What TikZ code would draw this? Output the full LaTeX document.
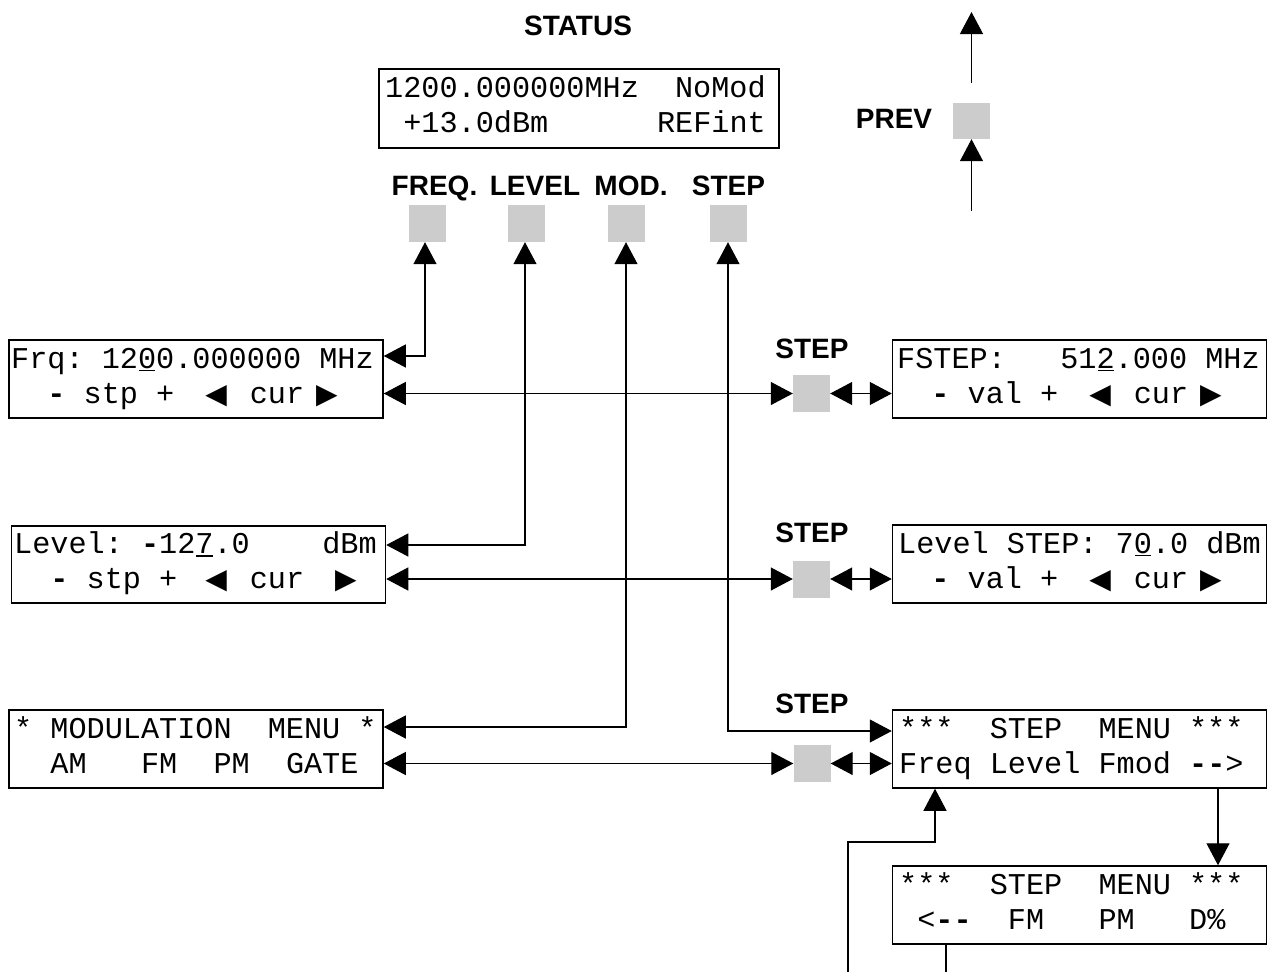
\documentclass[tikz,border=0pt]{standalone}
\usepackage{fontspec}
\setmainfont{Liberation Sans}
\newfontfamily\lcdfont{Liberation Mono}
\newfontfamily\symfont{DejaVu Sans}
\usetikzlibrary{arrows.meta}
\definecolor{btngray}{RGB}{204,204,204}
\newcommand{\ltri}{{\symfont\fontsize{28pt}{28pt}\selectfont ◀}}
\newcommand{\rtri}{{\symfont\fontsize{28pt}{28pt}\selectfont ▶}}
\newcommand{\bdash}{{\bfseries -}}
\newcommand{\udig}[1]{\setbox0\hbox{#1}\rlap{\kern1pt\rule[-3pt]{\dimexpr\wd0-2pt\relax}{1.5pt}}#1}
\tikzset{
  lcdbox/.style={draw, line width=1.5pt, rectangle, inner sep=0pt, minimum width=374pt, minimum height=78pt},
  lcdline/.style={anchor=base west, inner sep=0pt, font=\lcdfont\fontsize{30.2pt}{30.2pt}\selectfont},
  btn/.style={fill=btngray, draw=none, rectangle, minimum width=37pt, minimum height=37pt, inner sep=0pt},
  lbl/.style={font=\bfseries\fontsize{28pt}{28pt}\selectfont, anchor=base, inner sep=0pt},
  conn/.style={line width=1.2pt, -{Triangle[length=22pt,width=23pt]}},
  conntwo/.style={line width=1.2pt, {Triangle[length=22pt,width=23pt]}-{Triangle[length=22pt,width=23pt]}},
  plainline/.style={line width=1.2pt}
}
\begin{document}
\begin{tikzpicture}[x=1pt,y=-1pt]
\fill[white] (0,0) rectangle (1272,972);
\useasboundingbox (0,0) rectangle (1272,972);

% status
\node[lbl] (tstatus) at (578,35) {STATUS};
\node[lcdbox, minimum width=400pt, minimum height=79pt] (status) at (579,108.5) {};
\node[lcdline] (status1) at (385,97) {1200.000000MHz~~NoMod};
\node[lcdline] (status2) at (385,132) {~+13.0dBm~~~~~~REFint};

% top buttons
\node[lbl] (tfreq) at (434.5,195) {FREQ.};
\node[lbl] (tlevel) at (535,195) {LEVEL};
\node[lbl] (tmod) at (631,195) {MOD.};
\node[lbl] (tstep) at (728.5,195) {STEP};
\node[btn] (bfreq) at (427.5,223.5) {};
\node[btn] (blevel) at (526.5,223.5) {};
\node[btn] (bmod) at (626.5,223.5) {};
\node[btn] (bstep) at (728.5,223.5) {};

% prev
\node[lbl] (tprev) at (894,128) {PREV};
\node[btn, minimum height=36pt] (bprev) at (971.5,121) {};
\coordinate (pa) at (971.5,211);
\coordinate (pb) at (971.5,83);
\coordinate (pc) at (971.5,12);
\draw[conn] (pa) -- (bprev.south);
\draw[conn] (pb) -- (pc);

% left boxes
\node[lcdbox] (frq) at (196,379) {};
\node[lcdline] (frq1) at (11,368) {Frq:~12\udig{0}0.000000~MHz};
\node[lcdline] (frq2) at (11,403) {~~\bdash~stp~+\kern31pt\ltri\kern23pt cur\kern12pt\rtri};

\node[lcdbox, minimum height=77pt] (lev) at (198.5,564.5) {};
\node[lcdline] (lev1) at (14,553.5) {Level:~\bdash12\udig{7}.0~~~~dBm};
\node[lcdline] (lev2) at (14,588.5) {~~\bdash~stp~+\kern28pt\ltri\kern23pt cur\kern31pt\rtri};

\node[lcdbox] (mod) at (196,749) {};
\node[lcdline] (mod1) at (14,738) {*~MODULATION~~MENU~*};
\node[lcdline] (mod2) at (14,773) {~~AM~~~FM~~PM~~GATE};

% right boxes
\node[lcdbox] (fstep) at (1079.5,379) {};
\node[lcdline] (fstep1) at (897,368) {FSTEP:~~~51\udig{2}.000~MHz};
\node[lcdline] (fstep2) at (895,403) {~~\bdash~val~+\kern31pt\ltri\kern23pt cur\kern12pt\rtri};

\node[lcdbox] (lstep) at (1079.5,564) {};
\node[lcdline] (lstep1) at (898,553) {Level~STEP:~7\udig{0}.0~dBm};
\node[lcdline] (lstep2) at (895,588) {~~\bdash~val~+\kern31pt\ltri\kern23pt cur\kern12pt\rtri};

\node[lcdbox] (smenu) at (1079.5,749) {};
\node[lcdline] (smenu1) at (899,738) {***~~STEP~~MENU~***};
\node[lcdline] (smenub) at (899,773) {Freq~Level~Fmod~\bdash\bdash>};

\node[lcdbox] (smenutwo) at (1079.5,905) {};
\node[lcdline] (smenutwo1) at (899,894) {***~~STEP~~MENU~***};
\node[lcdline] (smenutwo2) at (899,929) {~<\bdash\bdash~~FM~~~PM~~~D\%};

% STEP buttons
\node[lbl] (ts1) at (812,358) {STEP};
\node[lbl] (ts2) at (812,542) {STEP};
\node[lbl] (ts3) at (812,713) {STEP};
\node[btn] (bs1) at (811.5,393.5) {};
\node[btn] (bs2) at (811.5,579) {};
\node[btn] (bs3) at (812,763.5) {};

% vertical connectors from top buttons
\coordinate (kfreq) at (425,356);
\coordinate (klev) at (525,545);
\coordinate (kmod) at (626,727);
\coordinate (kstep) at (728,731);
\draw[conntwo] (frq.east |- kfreq) -- (kfreq) -- (bfreq.south -| kfreq);
\draw[conntwo] (lev.east |- klev) -- (klev) -- (blevel.south -| klev);
\draw[conntwo] (mod.east |- kmod) -- (kmod) -- (bmod.south -| kmod);
\draw[conntwo] (bstep.south -| kstep) -- (kstep) -- (smenu.west |- kstep);

% horizontal rows
\draw[conntwo] (frq.east |- bs1) -- (bs1.west);
\draw[conntwo] (bs1.east) -- (fstep.west |- bs1);
\draw[conntwo] (lev.east |- bs2) -- (bs2.west);
\draw[conntwo] (bs2.east) -- (lstep.west |- bs2);
\draw[conntwo] (mod.east |- bs3) -- (bs3.west);
\draw[conntwo] (bs3.east) -- (smenu.west |- bs3);

% step menu pages
\coordinate (kdown) at (1218,0);
\draw[conn] (smenu.south -| kdown) -- (smenutwo.north -| kdown);
\coordinate (kout) at (946,972);
\draw[plainline] (smenutwo.south -| kout) -- (kout);
\coordinate (kin) at (848,972);
\coordinate (kinb) at (848,842);
\coordinate (kinc) at (935,842);
\draw[conn] (kin) -- (kinb) -- (kinc) -- (smenu.south -| kinc);
\end{tikzpicture}
\end{document}
